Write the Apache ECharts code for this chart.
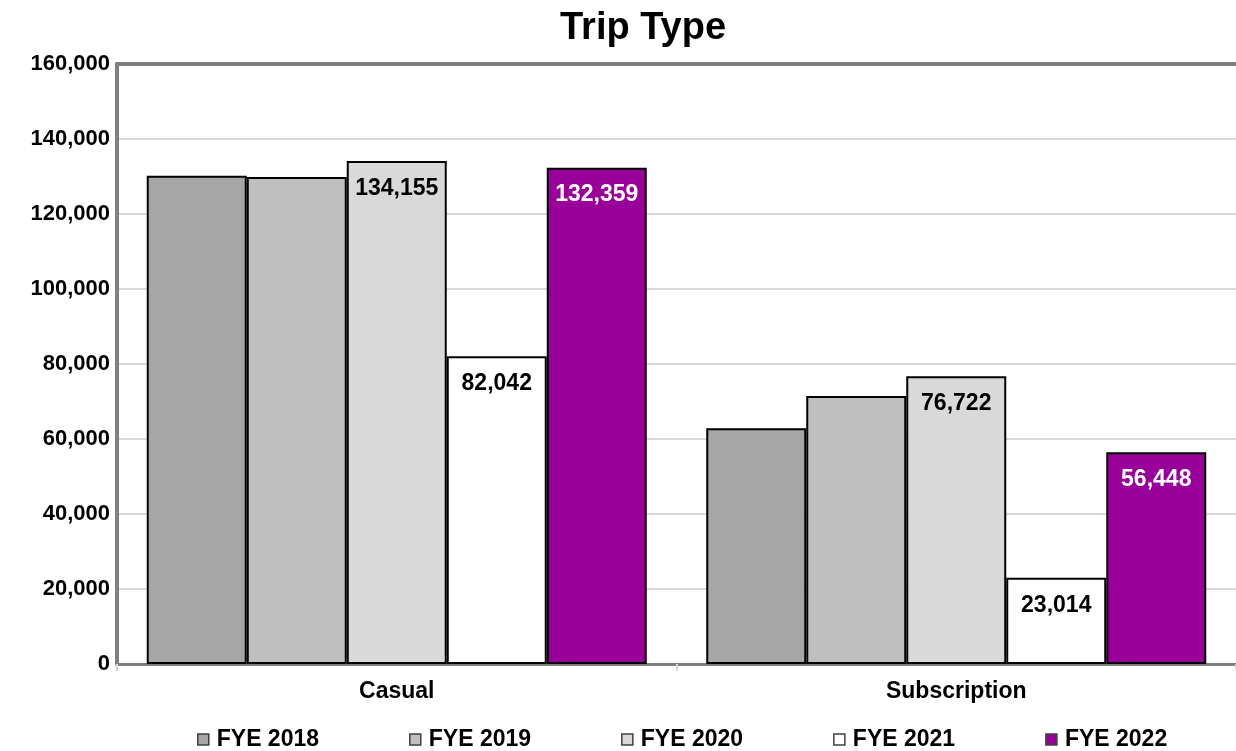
<!DOCTYPE html>
<html>
<head>
<meta charset="utf-8">
<script src="https://cdn.jsdelivr.net/npm/echarts@6/dist/echarts.min.js"></script>
<style>html,body{margin:0;padding:0;background:#fff}#c{width:1236px;height:751px}</style>
</head>
<body>
<div id="c"></div>
<script>
const categories = ['Casual', 'Subscription'];
const seriesNames = ['FYE 2018', 'FYE 2019', 'FYE 2020', 'FYE 2021', 'FYE 2022'];
const fye2018 = [130200, 62850];
const fye2019 = [129900, 71450];
const fye2020 = [134155, 76722];
const fye2021 = [82042, 23014];
const fye2022 = [132359, 56448];
const yTicks = [0, 20000, 40000, 60000, 80000, 100000, 120000, 140000, 160000];

const seriesData = [fye2018, fye2019, fye2020, fye2021, fye2022];
const colors = ['#A6A6A6', '#BFBFBF', '#D9D9D9', '#FFFFFF', '#990099'];
const showLabel = [false, false, true, true, true];
const labelColor = ['#000', '#000', '#000', '#000', '#fff'];
const FONT = '"Liberation Sans", Arial, sans-serif';
const fmt = v => Number(v).toLocaleString('en-US');

const chart = echarts.init(document.getElementById('c'), null, {renderer: 'canvas'});
chart.setOption({
  animation: false,
  backgroundColor: '#fff',
  title: {
    text: 'Trip Type', left: 555, top: 5,
    textStyle: {fontFamily: FONT, fontSize: 38, fontWeight: 'bold', color: '#000'}
  },
  legend: {
    data: seriesNames, left: 192, top: 723, itemWidth: 11, itemHeight: 11, itemGap: 90,
    icon: 'rect',
    itemStyle: {borderColor: '#404040', borderWidth: 1.5},
    textStyle: {fontFamily: FONT, fontSize: 23, fontWeight: 'bold', color: '#000', padding: [0, 0, 0, 3]}
  },
  grid: {left: 117, top: 64, width: 1123, height: 600, containLabel: false},
  xAxis: [{
    type: 'category', data: categories, position: 'bottom',
    axisLine: {show: true, lineStyle: {color: '#808080', width: 3}},
    axisTick: {show: true, length: 7, lineStyle: {color: '#D9D9D9', width: 2}},
    axisLabel: {fontFamily: FONT, fontSize: 23, fontWeight: 'bold', color: '#000', margin: 16}
  }, {
    type: 'category', data: categories, position: 'top',
    axisLine: {show: true, lineStyle: {color: '#808080', width: 4}},
    axisTick: {show: false}, axisLabel: {show: false}
  }],
  yAxis: {
    type: 'value', min: yTicks[0], max: yTicks[yTicks.length - 1], interval: yTicks[1] - yTicks[0],
    axisLine: {show: true, lineStyle: {color: '#808080', width: 4}},
    axisTick: {show: false},
    splitLine: {show: true, lineStyle: {color: '#D9D9D9', width: 2}},
    axisLabel: {fontFamily: FONT, fontSize: 22, fontWeight: 'bold', color: '#000', margin: 7, formatter: fmt}
  },
  series: seriesNames.map((name, i) => ({
    name, type: 'bar', data: seriesData[i], barWidth: 100, barGap: '0%',
    itemStyle: {color: colors[i], borderColor: '#000', borderWidth: 2},
    label: {
      show: showLabel[i], position: 'insideTop', distance: 16,
      fontFamily: FONT, fontSize: 23, fontWeight: 'bold', color: labelColor[i], formatter: p => fmt(p.value)
    }
  }))
});
</script>
</body>
</html>
